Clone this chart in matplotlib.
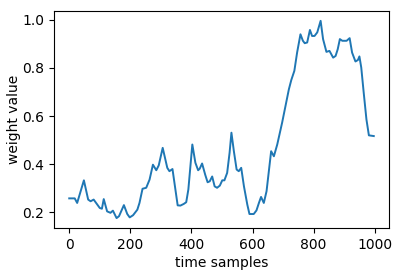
import matplotlib
matplotlib.use("Agg")
import matplotlib.pyplot as plt

time_samples = [0, 18, 26, 48, 62, 70, 80, 92, 100, 107, 113, 124, 135, 143, 155, 163,
                179, 190, 198, 209, 223, 230, 240, 252, 263, 274, 285, 293, 306, 321,
                328, 338, 355, 364, 375, 383, 390, 403, 413, 422, 427, 435, 445, 453,
                460, 468, 476, 484, 493, 501, 508, 517, 525, 531, 539, 548, 555, 563,
                572, 583, 590, 604, 613, 621, 628, 637, 646, 661, 670, 681, 697, 708,
                719, 727, 737, 746, 757, 765, 771, 779, 788, 795, 803, 812, 823, 831,
                842, 852, 864, 872, 879, 886, 894, 908, 918, 926, 937, 945, 950, 956,
                964, 973, 981, 997]
weight_value = [0.258, 0.258, 0.239, 0.333, 0.253, 0.246, 0.253, 0.232, 0.218, 0.215,
                0.255, 0.204, 0.198, 0.207, 0.176, 0.184, 0.230, 0.193, 0.179, 0.188,
                0.211, 0.239, 0.298, 0.302, 0.336, 0.398, 0.375, 0.395, 0.468, 0.385,
                0.371, 0.380, 0.229, 0.228, 0.235, 0.242, 0.295, 0.482, 0.406, 0.375,
                0.381, 0.403, 0.357, 0.325, 0.329, 0.349, 0.308, 0.302, 0.311, 0.333,
                0.333, 0.364, 0.448, 0.531, 0.454, 0.378, 0.371, 0.385, 0.308, 0.232,
                0.193, 0.193, 0.208, 0.239, 0.264, 0.239, 0.288, 0.454, 0.433, 0.482,
                0.573, 0.642, 0.711, 0.750, 0.788, 0.864, 0.940, 0.913, 0.903, 0.906,
                0.958, 0.933, 0.933, 0.948, 0.996, 0.920, 0.867, 0.871, 0.843, 0.850,
                0.878, 0.920, 0.913, 0.913, 0.924, 0.864, 0.827, 0.833, 0.848, 0.802,
                0.698, 0.586, 0.520, 0.517]

fig = plt.figure(figsize=(4.0, 2.74), dpi=100)
ax = fig.add_axes([0.135, 0.168, 0.8375, 0.792])
ax.plot(time_samples, weight_value, color="#1f77b4", linewidth=1.4)
ax.set_xlabel("time samples", fontsize=10, labelpad=3)
ax.set_ylabel("weight value", fontsize=10, labelpad=1)
ax.set_xticks([0, 200, 400, 600, 800, 1000])
ax.set_yticks([0.2, 0.4, 0.6, 0.8, 1.0])
ax.tick_params(labelsize=10)
fig.savefig("out.png", dpi=100)
